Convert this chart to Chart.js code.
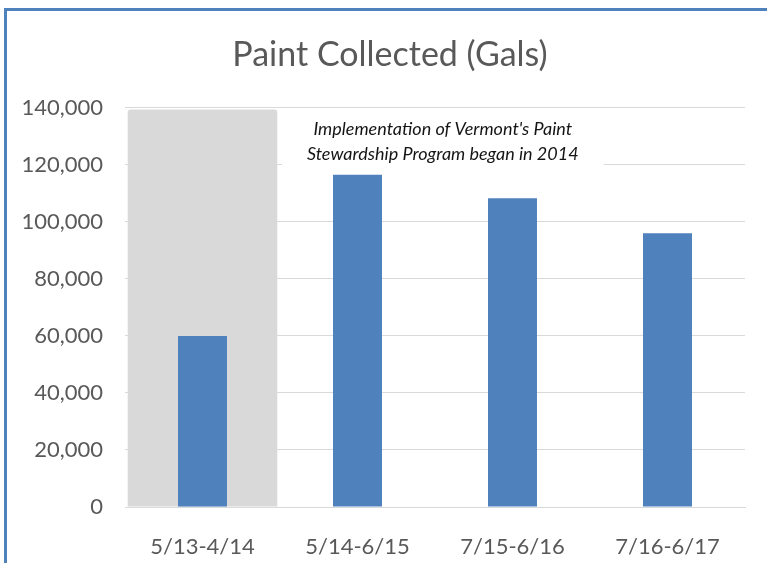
<!DOCTYPE html>
<html>
<head>
<meta charset="utf-8">
<script src="https://cdn.jsdelivr.net/npm/chart.js@4"></script>
<style>
  html, body { margin: 0; padding: 0; background: #fff; }
  #wrap { position: relative; width: 767px; height: 563px; overflow: hidden; }
  #frame { position: absolute; left: 4px; top: 8px; right: -10px; bottom: -10px;
           border-top: 3px solid #4F81BD; border-left: 3px solid #4F81BD; pointer-events: none; }
  canvas { position: absolute; left: 0; top: 0; }
</style>
</head>
<body>
<div id="wrap">
  <canvas id="chart" width="770" height="563"></canvas>
  <div id="frame"></div>
</div>
<script>
const periods = ["5/13-4/14", "5/14-6/15", "7/15-6/16", "7/16-6/17"]
const gallons = [60000, 116500, 108300, 96000]
// shaded period before the stewardship program started
const preProgram = [139400, null, null, null]
const yTicks = [0, 20000, 40000, 60000, 80000, 100000, 120000, 140000]
const noteLines = ["Implementation of Vermont's Paint", "Stewardship Program began in 2014"]

const textColor = '#595959'
const font = "Lato, 'Open Sans', sans-serif"

// white note box with italic text, placed between categories 2 and 3
const notePlugin = {
  id: 'note',
  beforeDatasetsDraw(chart) {
    const { ctx, scales: { x, y } } = chart
    ctx.save()
    ctx.font = "italic 18px " + font
    const cx = x.getPixelForValue(1.55)
    const w = Math.max(...noteLines.map(t => ctx.measureText(t).width)) + 50
    const top = y.getPixelForValue(138700)
    const bottom = y.getPixelForValue(119700)
    ctx.fillStyle = '#ffffff'
    ctx.fillRect(cx - w / 2, top, w, bottom - top)
    ctx.fillStyle = '#141414'
    ctx.textAlign = 'center'
    ctx.textBaseline = 'middle'
    ctx.fillText(noteLines[0], cx, y.getPixelForValue(132400))
    ctx.fillText(noteLines[1], cx, y.getPixelForValue(123900))
    ctx.restore()
  }
}

const chart = new Chart(document.getElementById('chart'), {
  type: 'bar',
  data: {
    labels: periods,
    datasets: [{
      label: 'Paint Collected',
      data: gallons,
      backgroundColor: '#4F81BD',
      barPercentage: 0.316,
      categoryPercentage: 1,
      grouped: false,
      order: 1
    }, {
      label: 'Before program',
      data: preProgram,
      backgroundColor: '#D9D9D9',
      borderRadius: 3,
      borderSkipped: 'bottom',
      barPercentage: 0.965,
      categoryPercentage: 1,
      grouped: false,
      order: 2
    }]
  },
  options: {
    responsive: false,
    animation: false,
    layout: { padding: { left: 10, right: 0, top: 0, bottom: 0 } },
    plugins: {
      legend: { display: false },
      tooltip: { enabled: false },
      title: {
        display: true,
        text: 'Paint Collected (Gals)',
        color: textColor,
        font: { family: font, size: 34, weight: 'normal', lineHeight: 1.2 },
        padding: { top: 35, bottom: 32 }
      }
    },
    scales: {
      x: {
        grid: { display: false },
        border: { display: true, color: '#D9D9D9', width: 1 },
        ticks: { color: textColor, font: { family: font, size: 22 }, padding: 19 },
        afterFit(scale) { scale.height = 56 }
      },
      y: {
        min: 0,
        max: 140000,
        afterBuildTicks(scale) { scale.ticks = yTicks.map(v => ({ value: v })) },
        grid: { color: '#D9D9D9', lineWidth: 1, drawTicks: false },
        border: { display: false },
        ticks: {
          color: textColor,
          font: { family: font, size: 22 },
          padding: 22,
          callback: v => v.toLocaleString('en-US')
        },
        afterFit(scale) { scale.width = 115 }
      },
      // empty right-hand margin so the title sits where the original has it
      spacer: {
        position: 'right',
        grid: { display: false },
        border: { display: false },
        ticks: { display: false },
        afterFit(scale) { scale.width = 25 }
      }
    }
  },
  plugins: [notePlugin]
})
</script>
</body>
</html>
